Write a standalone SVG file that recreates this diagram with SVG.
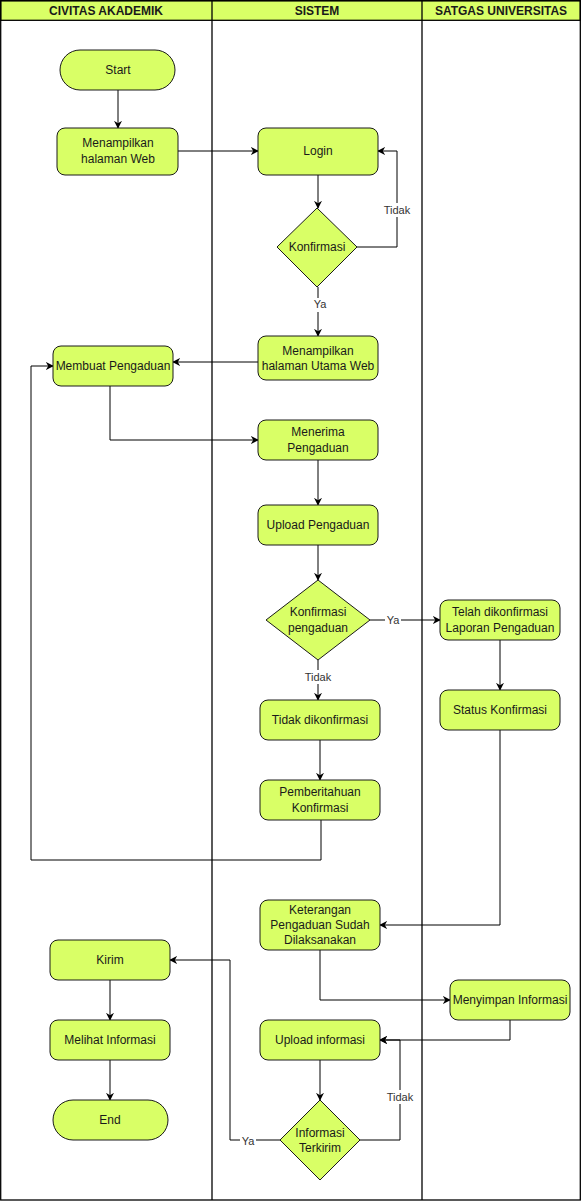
<svg xmlns="http://www.w3.org/2000/svg" width="581" height="1201" viewBox="0 0 581 1201">
<defs>
<style>
.lane{fill:none;stroke:#000;stroke-width:1.3}
.hdr{fill:#d9ff66;stroke:#000;stroke-width:1.3}
.ht{font-family:"Liberation Sans",Arial,sans-serif;font-size:12px;font-weight:bold;fill:#1a1a1a;text-anchor:middle;dominant-baseline:central}
.n{fill:#d9ff66;stroke:#1a1a1a;stroke-width:1}
.t{font-family:"Liberation Sans",Arial,sans-serif;font-size:12px;fill:#1a1a1a;text-anchor:middle;dominant-baseline:central}
.c{fill:none;stroke:#000;stroke-width:1;marker-end:url(#a)}
.cl{fill:none;stroke:#000;stroke-width:1}
.lb{font-family:"Liberation Sans",Arial,sans-serif;font-size:11px;fill:#333;text-anchor:middle;dominant-baseline:central}
.lbg{fill:#fff}
</style>
<marker id="a" viewBox="0 0 10 10" refX="9" refY="5" markerWidth="8" markerHeight="8" orient="auto" markerUnits="userSpaceOnUse">
<path d="M0,0 L10,5 L0,10 L3,5 Z" fill="#000"/>
</marker>
</defs>
<rect width="581" height="1201" fill="#fff"/>
<g id="pool">
<rect class="hdr" x="0.7" y="0.7" width="579.6" height="19.6"/>
<rect class="lane" x="0.7" y="0.7" width="579.6" height="1199.3"/>
<line class="lane" x1="212" y1="0.7" x2="212" y2="1200"/>
<line class="lane" x1="422" y1="0.7" x2="422" y2="1200"/>
<text class="ht" x="106" y="11">CIVITAS AKADEMIK</text>
<text class="ht" x="317" y="11">SISTEM</text>
<text class="ht" x="501" y="11">SATGAS UNIVERSITAS</text>
</g>
<g id="connectors">
<path class="c" d="M118,90 V128"/>
<path class="c" d="M178,151 H258"/>
<path class="c" d="M318,175 V208"/>
<path class="c" d="M357,247 H397 V151 H378"/>
<path class="c" d="M318,287 V336"/>
<path class="c" d="M258,362 H173"/>
<path class="c" d="M110,386 V440 H258"/>
<path class="c" d="M318,460 V505"/>
<path class="c" d="M318,545 V580"/>
<path class="c" d="M370,620 H440"/>
<path class="c" d="M318,660 V700"/>
<path class="c" d="M500,640 V690"/>
<path class="c" d="M320,740 V780"/>
<path class="c" d="M321,820 V860 H31 V366 H53"/>
<path class="c" d="M500,730 V925 H380"/>
<path class="c" d="M320,950 V1000 H450"/>
<path class="c" d="M510,1020 V1040 H380"/>
<path class="c" d="M320,1060 V1100"/>
<path class="c" d="M360,1140 H400 V1040 H380"/>
<path class="c" d="M280,1140 H230 V960 H170"/>
<path class="c" d="M110,980 V1020"/>
<path class="c" d="M110,1060 V1100"/>
<rect class="lbg" x="383" y="203" width="28" height="14"/>
<text class="lb" x="397" y="210">Tidak</text>
<rect class="lbg" x="312" y="298" width="16" height="14"/>
<text class="lb" x="320" y="304">Ya</text>
<rect class="lbg" x="385" y="613" width="16" height="14"/>
<text class="lb" x="393" y="620">Ya</text>
<rect class="lbg" x="304" y="670" width="28" height="14"/>
<text class="lb" x="318" y="677">Tidak</text>
<rect class="lbg" x="386" y="1090" width="28" height="14"/>
<text class="lb" x="400" y="1097">Tidak</text>
<rect class="lbg" x="240" y="1134" width="16" height="14"/>
<text class="lb" x="248" y="1141">Ya</text>
</g>
<g id="start"><rect class="n" x="60" y="50" width="115" height="40" rx="20"/><text class="t" x="118" y="70">Start</text></g>
<g id="tampilWeb"><rect class="n" x="57" y="128" width="121" height="47" rx="8"/><text class="t" x="118" y="143">Menampilkan</text><text class="t" x="118" y="159">halaman Web</text></g>
<g id="login"><rect class="n" x="258" y="128" width="120" height="47" rx="8"/><text class="t" x="318" y="151">Login</text></g>
<g id="konfirmasi"><polygon class="n" points="317,208 357,247 317,287 277,247"/><text class="t" x="317" y="247">Konfirmasi</text></g>
<g id="tampilUtama"><rect class="n" x="258" y="336" width="120" height="44" rx="8"/><text class="t" x="318" y="351">Menampilkan</text><text class="t" x="318" y="366">halaman Utama Web</text></g>
<g id="membuat"><rect class="n" x="53" y="346" width="120" height="40" rx="8"/><text class="t" x="113" y="366">Membuat Pengaduan</text></g>
<g id="menerima"><rect class="n" x="258" y="420" width="120" height="40" rx="8"/><text class="t" x="318" y="432">Menerima</text><text class="t" x="318" y="448">Pengaduan</text></g>
<g id="uploadPengaduan"><rect class="n" x="258" y="505" width="120" height="40" rx="8"/><text class="t" x="318" y="525">Upload Pengaduan</text></g>
<g id="konfirmasiPengaduan"><polygon class="n" points="318,580 370,620 318,660 266,620"/><text class="t" x="318" y="612">Konfirmasi</text><text class="t" x="318" y="628">pengaduan</text></g>
<g id="telah"><rect class="n" x="440" y="600" width="120" height="40" rx="8"/><text class="t" x="500" y="612">Telah dikonfirmasi</text><text class="t" x="500" y="628">Laporan Pengaduan</text></g>
<g id="status"><rect class="n" x="440" y="690" width="120" height="40" rx="8"/><text class="t" x="500" y="710">Status Konfirmasi</text></g>
<g id="tidakDikonfirmasi"><rect class="n" x="260" y="700" width="120" height="40" rx="8"/><text class="t" x="320" y="720">Tidak dikonfirmasi</text></g>
<g id="pemberitahuan"><rect class="n" x="260" y="780" width="120" height="40" rx="8"/><text class="t" x="320" y="792">Pemberitahuan</text><text class="t" x="320" y="808">Konfirmasi</text></g>
<g id="keterangan"><rect class="n" x="260" y="900" width="120" height="50" rx="8"/><text class="t" x="320" y="910">Keterangan</text><text class="t" x="320" y="925">Pengaduan Sudah</text><text class="t" x="320" y="940">Dilaksanakan</text></g>
<g id="menyimpan"><rect class="n" x="450" y="980" width="120" height="40" rx="8"/><text class="t" x="510" y="1000">Menyimpan Informasi</text></g>
<g id="uploadInformasi"><rect class="n" x="260" y="1020" width="120" height="40" rx="8"/><text class="t" x="320" y="1040">Upload informasi</text></g>
<g id="informasiTerkirim"><polygon class="n" points="320,1100 360,1140 320,1180 280,1140"/><text class="t" x="320" y="1133">Informasi</text><text class="t" x="320" y="1148">Terkirim</text></g>
<g id="kirim"><rect class="n" x="50" y="940" width="120" height="40" rx="8"/><text class="t" x="110" y="960">Kirim</text></g>
<g id="melihat"><rect class="n" x="50" y="1020" width="120" height="40" rx="8"/><text class="t" x="110" y="1040">Melihat Informasi</text></g>
<g id="end"><rect class="n" x="53" y="1100" width="115" height="40" rx="20"/><text class="t" x="110" y="1120">End</text></g>
</svg>
